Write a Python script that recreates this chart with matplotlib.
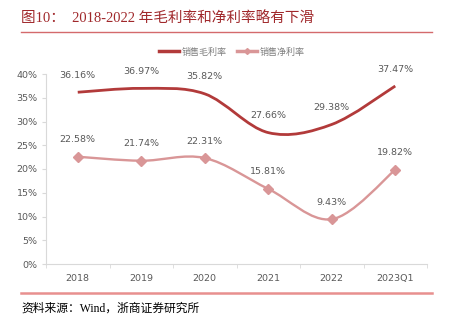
import numpy as np
import matplotlib
matplotlib.use('Agg')
from matplotlib import pyplot as plt
from matplotlib.path import Path
from matplotlib.patches import PathPatch
from matplotlib.lines import Line2D

#中文字体
plt.rcParams['font.family'] = ['Noto Sans CJK SC', 'DejaVu Sans']

years = ['2018', '2019', '2020', '2021', '2022', '2023Q1']
gross = [36.16, 36.97, 35.82, 27.66, 29.38, 37.47]     #销售毛利率
net = [22.58, 21.74, 22.31, 15.81, 9.43, 19.82]        #销售净利率
yticks = [0, 5, 10, 15, 20, 25, 30, 35, 40]

c_gross = '#B23A3A'
c_net = '#D99697'
c_text = '#595959'
c_axis = '#D9D9D9'
num_font = ['Liberation Sans Narrow', 'DejaVu Sans']
serif_cjk = ['Liberation Serif', 'Noto Sans CJK SC']


def smooth_path(xs, ys):
	'''用Catmull-Rom方式生成平滑曲线(贝塞尔控制点)'''
	pts = np.column_stack([xs, ys]).astype(float)
	ext = np.vstack([pts[0], pts, pts[-1]])
	verts = [pts[0]]
	codes = [Path.MOVETO]
	for i in range(1, len(ext) - 2):
		p0, p1, p2, p3 = ext[i - 1], ext[i], ext[i + 1], ext[i + 2]
		verts += [p1 + (p2 - p0) / 6, p2 - (p3 - p1) / 6, p2]
		codes += [Path.CURVE4] * 3
	return Path(verts, codes)


fig = plt.figure(figsize=(4.49, 3.27), dpi=100)
ax = fig.add_axes([46 / 449, 63 / 327, 381 / 449, 190 / 327])

x = np.arange(len(years))
ax.add_patch(PathPatch(smooth_path(x, gross), fill=False, edgecolor=c_gross, lw=2.0, capstyle='butt'))
ax.add_patch(PathPatch(smooth_path(x, net), fill=False, edgecolor=c_net, lw=1.7, capstyle='butt'))
ax.plot(x, net, ls='none', marker='D', ms=5, color=c_net)

for i in range(len(years)):
	ax.annotate('%.2f%%' % gross[i], (x[i], gross[i]), xytext=(0, 9), textcoords='offset points',
				ha='center', va='bottom', fontsize=6.8, color=c_text, family=num_font)
	ax.annotate('%.2f%%' % net[i], (x[i], net[i]), xytext=(0, 9), textcoords='offset points',
				ha='center', va='bottom', fontsize=6.8, color=c_text, family=num_font)

ax.set_xlim(-0.5, len(years) - 0.5)
ax.set_ylim(0, 40)
ax.set_yticks(yticks)
ax.set_yticklabels(['%d%%' % v for v in yticks], fontsize=6.8, color=c_text, family=num_font)
ax.set_xticks(x)
ax.set_xticklabels(years, fontsize=6.8, color=c_text, family=num_font)
ax.set_xticks(np.arange(-0.5, len(years), 1), minor=True)
ax.tick_params(axis='x', which='major', length=0, pad=7)
ax.tick_params(axis='x', which='minor', length=3, color=c_axis)
ax.tick_params(axis='y', length=3, color=c_axis, pad=3)
for s in ['top', 'right']:
	ax.spines[s].set_visible(False)
for s in ['left', 'bottom']:
	ax.spines[s].set_color(c_axis)

h1 = Line2D([], [], color=c_gross, lw=2.5)
h2 = Line2D([], [], color=c_net, lw=2.5, marker='D', ms=3)
fig.legend([h1, h2], ['销售毛利率', '销售净利率'], loc='center', bbox_to_anchor=(232 / 449, 1 - 52 / 327),
		   ncol=2, frameon=False, fontsize=6.5, labelcolor='#7F7F7F', handlelength=2.2,
		   handletextpad=0.3, columnspacing=1.2)

#标题与上下分割线
fig.text(21 / 449, 1 - 18 / 327, '图10：  2018-2022 年毛利率和净利率略有下滑', fontsize=10.5,
		 color='#A0282B', va='center', ha='left', family=serif_cjk)
fig.add_artist(Line2D([21 / 449, 432 / 449], [1 - 32 / 327] * 2, color='#D46A6C', lw=1.0))
fig.add_artist(Line2D([21 / 449, 432 / 449], [1 - 293 / 327] * 2, color='#E8908F', lw=1.8))
fig.text(21 / 449, 1 - 309 / 327, '资料来源：Wind，浙商证券研究所', fontsize=8.5,
		 color='#000000', va='center', ha='left', family=serif_cjk)

fig.savefig('out.png', dpi=100)
